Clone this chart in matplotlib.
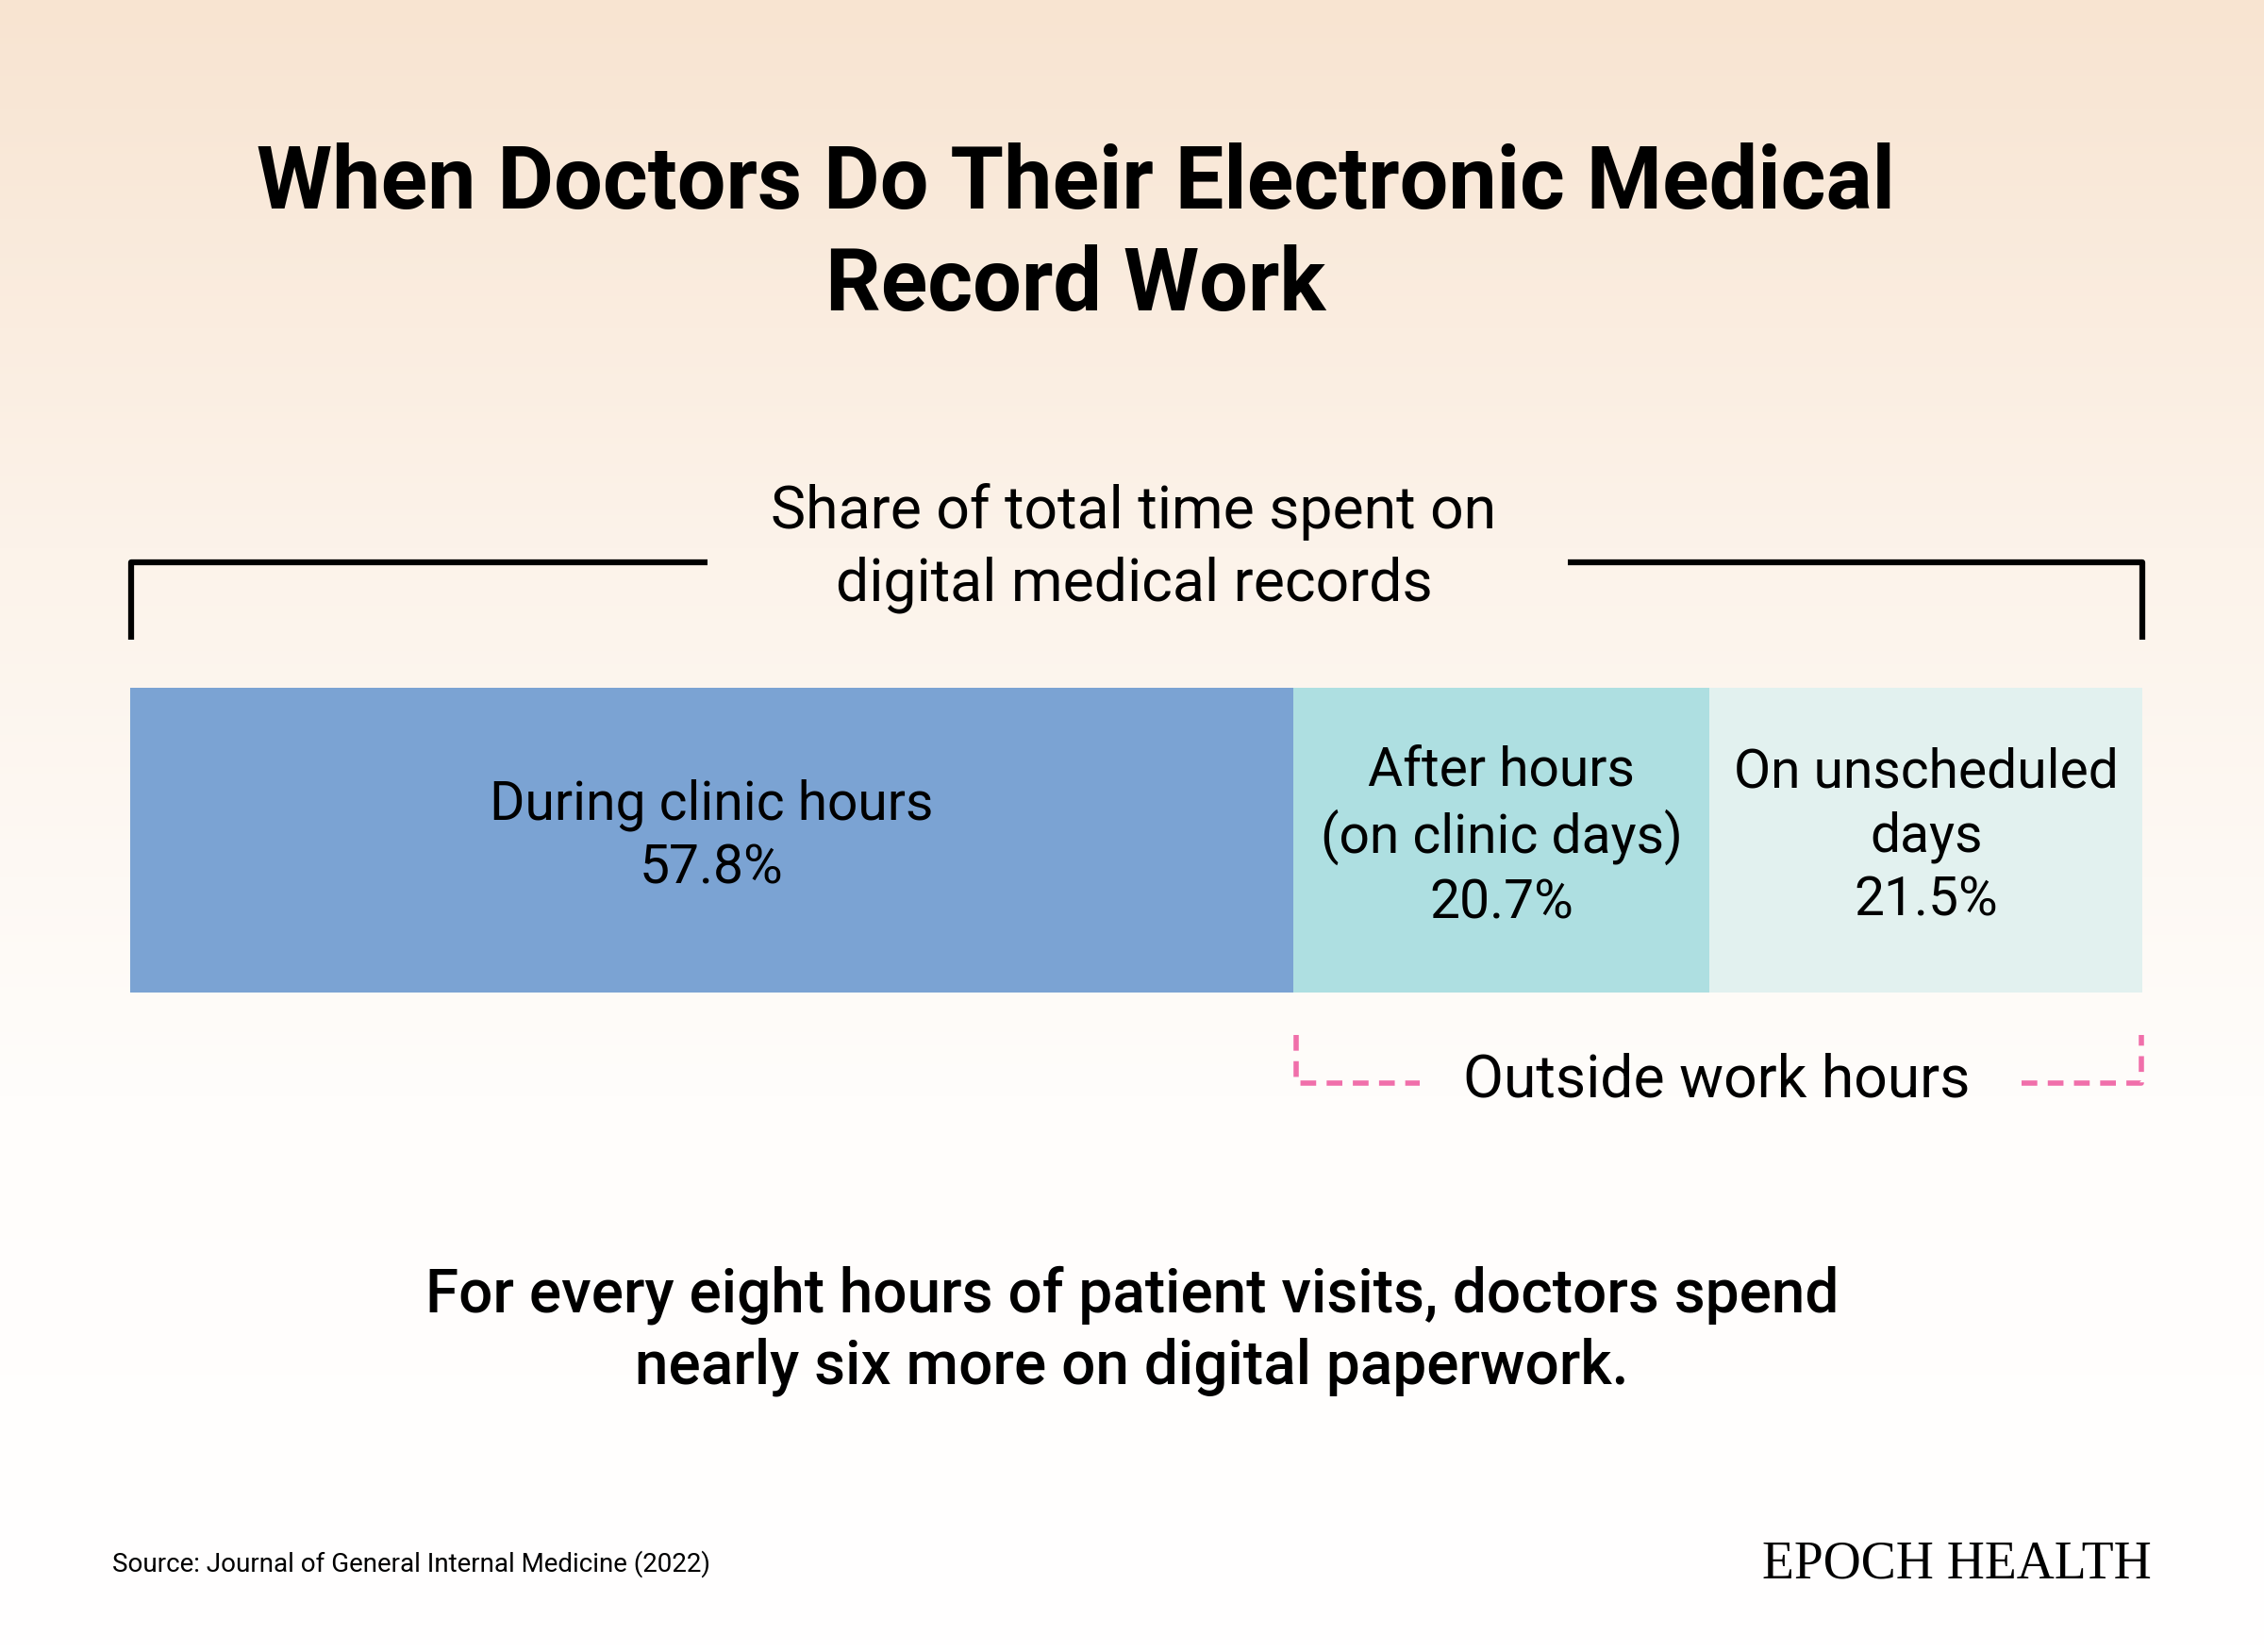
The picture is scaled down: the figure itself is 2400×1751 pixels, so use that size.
import numpy as np
import matplotlib.pyplot as plt
from matplotlib.colors import LinearSegmentedColormap

plt.rcParams['font.family'] = ['Roboto', 'DejaVu Sans']

segments = ["During clinic hours", "After hours\n(on clinic days)", "On unscheduled\ndays"]
shares = [57.8, 20.7, 21.5]
colors = ['#7ba3d3', '#aedfe1', '#e2f1ef']

W, H = 2400, 1751
fig = plt.figure(figsize=(24, 17.51), dpi=100)

# background: peach gradient fading to white
bg = fig.add_axes([0, 0, 1, 1])
grad = np.linspace(0, 1, 256).reshape(-1, 1)
cmap = LinearSegmentedColormap.from_list('bg', ['#f8e4d1', '#fcf3ea', '#fffdfb', '#ffffff'])
bg.imshow(grad, aspect='auto', cmap=cmap, extent=[0, W, H, 0])
bg.set_xlim(0, W)
bg.set_ylim(H, 0)
bg.axis('off')

# title
bg.text(1140, 196, "When Doctors Do Their Electronic Medical", ha='center', va='center',
        fontsize=66, fontweight='bold')
bg.text(1140, 303, "Record Work", ha='center', va='center', fontsize=66, fontweight='bold')

# subtitle + black bracket
bg.text(1202, 542, "Share of total time spent on", ha='center', va='center', fontsize=45)
bg.text(1202, 620, "digital medical records", ha='center', va='center', fontsize=45)
bg.plot([139, 139, 750], [678, 596, 596], color='black', lw=4.5, solid_capstyle='butt')
bg.plot([1662, 2271, 2271], [596, 596, 678], color='black', lw=4.5, solid_capstyle='butt')

# stacked bar
ax = fig.add_axes([138 / W, 1 - 1052 / H, 2133 / W, 323 / H])
left = 0
for lab, val, col in zip(segments, shares, colors):
    ax.barh(0, val, left=left, height=1, color=col, edgecolor='none')
    ax.text(left + val / 2, 0.01, f"{lab}\n{val}%", ha='center', va='center',
            fontsize=41, linespacing=1.3)
    left += val
ax.set_xlim(0, 100)
ax.set_ylim(-0.5, 0.5)
ax.axis('off')

# pink dashed bracket
pink = '#f06faa'
bg.plot([1374, 1374, 1505], [1097, 1148, 1148], color=pink, lw=4, ls=(0, (3, 2)))
bg.plot([2143, 2270, 2270], [1148, 1148, 1097], color=pink, lw=4, ls=(0, (3, 2)))
bg.text(1820, 1145, "Outside work hours", ha='center', va='center', fontsize=45)

# takeaway
bg.text(1200, 1373, "For every eight hours of patient visits, doctors spend", ha='center',
        va='center', fontsize=46, fontweight='medium')
bg.text(1200, 1449, "nearly six more on digital paperwork.", ha='center', va='center',
        fontsize=46, fontweight='medium')

# footer
bg.text(119, 1658, "Source: Journal of General Internal Medicine (2022)", ha='left',
        va='center', fontsize=20)
bg.text(2281, 1658, "EPOCH HEALTH", ha='right', va='center', fontsize=40,
        family='Liberation Serif')

fig.savefig('out.png', dpi=100)
